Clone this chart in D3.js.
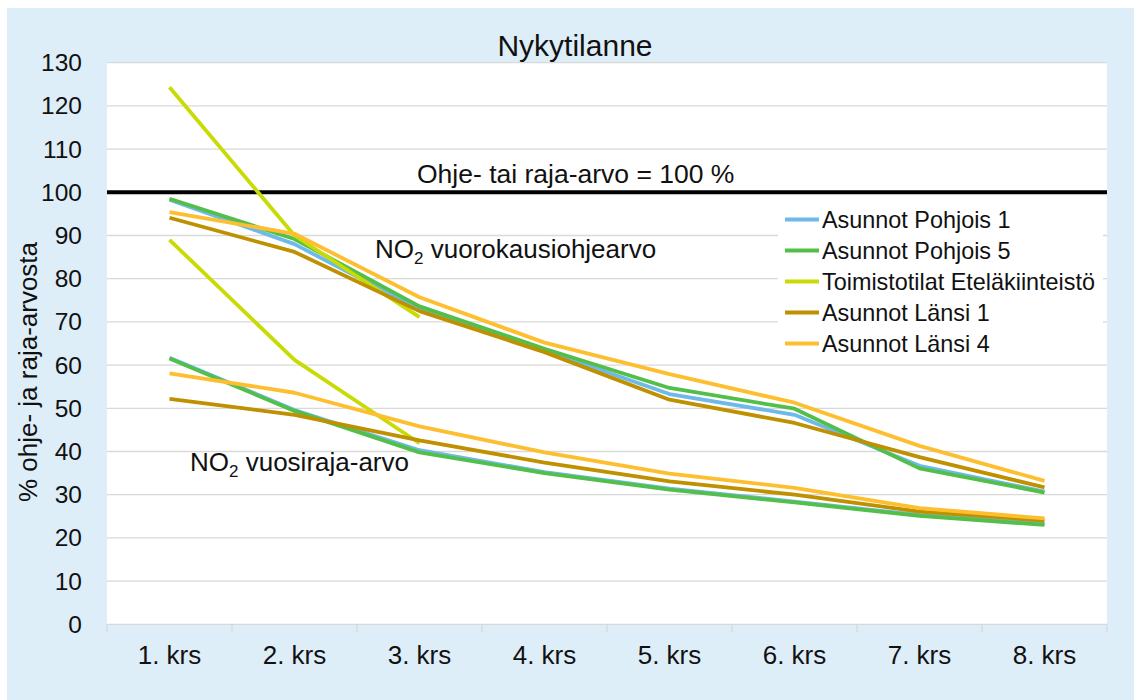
<!DOCTYPE html>
<html>
<head>
<meta charset="utf-8">
<script src="https://cdn.jsdelivr.net/npm/d3@7"></script>
<style>
  html, body { margin: 0; padding: 0; background: #ffffff; }
  svg { display: block; font-family: "Liberation Sans", Arial, sans-serif; }
</style>
</head>
<body>
<svg id="chart" width="1134" height="700"></svg>
<script>
// Floors (x categories) and y ticks
const floors = ["1. krs", "2. krs", "3. krs", "4. krs", "5. krs", "6. krs", "7. krs", "8. krs"];
const yTicks = [0, 10, 20, 30, 40, 50, 60, 70, 80, 90, 100, 110, 120, 130];

// Series: share of guideline / limit value (%), daily guideline and annual limit
const seriesNames = ["Asunnot Pohjois 1", "Asunnot Pohjois 5", "Toimistotilat Eteläkiinteistö", "Asunnot Länsi 1", "Asunnot Länsi 4"];
const seriesColors = ["#6EB9E8", "#52BF48", "#C9DB05", "#BF9000", "#FDBF30"];

const pohjois1Daily  = [98.3, 88.0, 72.9, 63.4, 53.3, 48.5, 36.7, 30.7];
const pohjois1Annual = [61.7, 49.6, 40.3, 35.2, 31.4, 28.4, 25.3, 23.3];
const pohjois5Daily  = [98.5, 89.2, 73.6, 63.8, 54.7, 49.9, 36.1, 30.5];
const pohjois5Annual = [61.5, 49.4, 39.8, 35.0, 31.2, 28.2, 25.1, 23.0];
const toimistoDaily  = [124.3, 90.0, 71.1];
const toimistoAnnual = [89.0, 61.2, 41.9];
const lansi1Daily    = [94.1, 86.2, 72.5, 63.0, 52.0, 46.6, 38.7, 31.7];
const lansi1Annual   = [52.2, 48.5, 42.6, 37.4, 33.1, 30.0, 26.1, 24.0];
const lansi4Daily    = [95.4, 90.4, 75.7, 65.2, 57.9, 51.3, 41.3, 33.2];
const lansi4Annual   = [58.1, 53.6, 45.8, 39.8, 34.9, 31.6, 26.9, 24.5];

const limitValue = 100;

const lines = [
  { s: 0, values: pohjois1Daily }, { s: 0, values: pohjois1Annual },
  { s: 1, values: pohjois5Daily }, { s: 1, values: pohjois5Annual },
  { s: 2, values: toimistoDaily }, { s: 2, values: toimistoAnnual },
  { s: 3, values: lansi1Daily },   { s: 3, values: lansi1Annual },
  { s: 4, values: lansi4Daily },   { s: 4, values: lansi4Annual }
];

const svg = d3.select("#chart");
const W = 1134, H = 700;
const plot = { left: 107, right: 1107, top: 62.7, bottom: 624.3 };
const ink = "#111111";

// Outer chart background
svg.append("rect").attr("x", 7).attr("y", 8).attr("width", W - 7).attr("height", H - 8)
  .attr("fill", "#DEEEF9");
// Plot area
svg.append("rect").attr("x", plot.left).attr("y", plot.top)
  .attr("width", plot.right - plot.left).attr("height", plot.bottom - plot.top)
  .attr("fill", "#ffffff");

const x = d3.scaleBand().domain(floors).range([plot.left, plot.right]).padding(0);
const y = d3.scaleLinear().domain([0, 130]).range([plot.bottom, plot.top]);
const cx = i => x(floors[i]) + x.bandwidth() / 2;

// Horizontal gridlines
svg.append("g").selectAll("line").data(yTicks).join("line")
  .attr("x1", plot.left).attr("x2", plot.right)
  .attr("y1", d => y(d)).attr("y2", d => y(d))
  .attr("stroke", "#D9D9D9").attr("stroke-width", 1.3);

// X axis with tick marks between categories
const xAxis = svg.append("g").attr("transform", `translate(0,${plot.bottom})`);
xAxis.append("g").selectAll("line").data(d3.range(floors.length + 1)).join("line")
  .attr("x1", i => plot.left + i * x.bandwidth()).attr("x2", i => plot.left + i * x.bandwidth())
  .attr("y1", 0).attr("y2", 8)
  .attr("stroke", "#D9D9D9").attr("stroke-width", 1.3);
xAxis.append("g").selectAll("text").data(floors).join("text")
  .attr("x", d => x(d) + x.bandwidth() / 2).attr("y", 40)
  .attr("text-anchor", "middle").attr("font-size", 26).attr("fill", ink)
  .text(d => d);

// Y tick labels
svg.append("g").selectAll("text").data(yTicks).join("text")
  .attr("x", 82).attr("y", d => y(d)).attr("dy", "0.35em")
  .attr("text-anchor", "end").attr("font-size", 24.5).attr("fill", ink)
  .text(d => d);

// Y axis title
svg.append("text")
  .attr("transform", `translate(37,${372}) rotate(-90)`)
  .attr("text-anchor", "middle").attr("font-size", 26).attr("fill", ink)
  .text("% ohje- ja raja-arvosta");

// Title
svg.append("text").attr("x", 575).attr("y", 56)
  .attr("text-anchor", "middle").attr("font-size", 30).attr("fill", ink)
  .text("Nykytilanne");

// Legend box (covers gridlines)
const legend = svg.append("g");
legend.append("rect").attr("x", 778).attr("y", 203).attr("width", 325).attr("height", 155)
  .attr("fill", "#ffffff");

// Guideline / limit value line
svg.append("line")
  .attr("x1", plot.left).attr("x2", plot.right)
  .attr("y1", y(limitValue)).attr("y2", y(limitValue))
  .attr("stroke", "#000000").attr("stroke-width", 4);

// Series lines
const lineGen = d3.line().x((d, i) => cx(i)).y(d => y(d));
svg.append("g").selectAll("path").data(lines).join("path")
  .attr("d", d => lineGen(d.values))
  .attr("fill", "none")
  .attr("stroke", d => seriesColors[d.s])
  .attr("stroke-width", 3.8)
  .attr("stroke-linejoin", "round");

// Legend entries
const rows = legend.selectAll("g.row").data(seriesNames).join("g")
  .attr("class", "row")
  .attr("transform", (d, i) => `translate(785,${219.5 + i * 31})`);
rows.append("line").attr("x1", 0).attr("x2", 34).attr("y1", 0).attr("y2", 0)
  .attr("stroke", (d, i) => seriesColors[i]).attr("stroke-width", 3.8);
rows.append("text").attr("x", 37).attr("y", 0).attr("dy", "0.35em")
  .attr("font-size", 23.4).attr("fill", ink).text(d => d);

// Annotations
svg.append("text").attr("x", 417).attr("y", 183).attr("font-size", 26.5).attr("fill", ink)
  .text("Ohje- tai raja-arvo = 100 %");

function no2Label(xp, yp, rest) {
  const t = svg.append("text").attr("x", xp).attr("y", yp).attr("font-size", 26).attr("fill", ink);
  t.append("tspan").text("NO");
  t.append("tspan").attr("font-size", 17).attr("dy", 6).text("2");
  t.append("tspan").attr("dy", -6).text(" " + rest);
}
no2Label(375, 258, "vuorokausiohjearvo");
no2Label(190, 471, "vuosiraja-arvo");
</script>
</body>
</html>
